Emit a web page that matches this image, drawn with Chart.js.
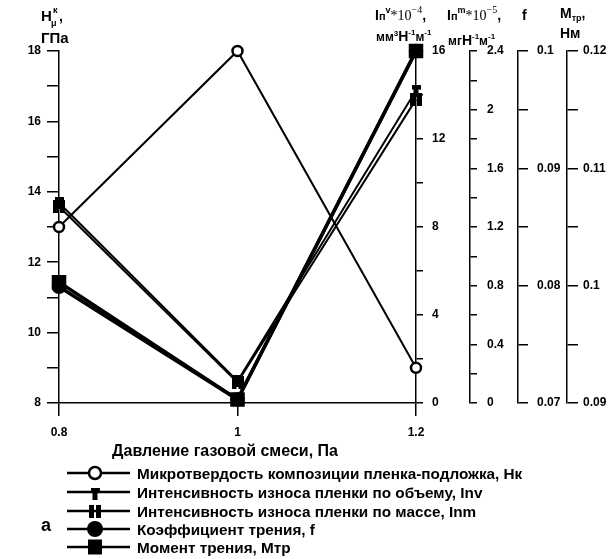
<!DOCTYPE html>
<html>
<head>
<meta charset="utf-8">
<script src="https://cdn.jsdelivr.net/npm/chart.js@4.4.0/dist/chart.umd.min.js"></script>
<style>
html, body { margin: 0; padding: 0; background: #fff; }
</style>
</head>
<body>
<canvas id="grafico" width="612" height="559"></canvas>
<script>
"use strict";
// давление газовой смеси, Па
const pressure = [0.8, 1.0, 1.2];
// микротвердость Нк, ГПа
const hardness = [13.0, 18.0, 9.0];
// интенсивность износа по объему, *10^-4
const wearVolume = [9.1, 1.0, 14.2];
// интенсивность износа по массе, *10^-5
const wearMass = [1.34, 0.14, 2.07];
// коэффициент трения f
const friction = [0.0799, 0.0703, 0.1];
// момент трения, Нм
const torque = [0.1003, 0.0903, 0.12];

const legendLabels = [
    "Микротвердость композиции пленка-подложка, Нк",
    "Интенсивность износа пленки по объему, Inv",
    "Интенсивность износа пленки по массе, Inm",
    "Коэффициент трения, f",
    "Момент трения, Мтр"
];

const FONT = '"Liberation Sans", Arial, sans-serif';
const SERIF = '"Liberation Serif", "Times New Roman", serif';

function makeMarker(w, h, draw) {
    let c = document.createElement("canvas");
    c.width = w;
    c.height = h;
    let g = c.getContext("2d");
    g.fillStyle = "#000";
    draw(g);
    return c;
}
// значок "гвоздь" и значок "II"
const nailMark = makeMarker(9, 12, function (g) {
    g.fillRect(0, 0, 9, 5);
    g.fillRect(2, 5, 5, 7);
});
const gateMark = makeMarker(12, 13, function (g) {
    g.fillRect(0, 0, 5, 13);
    g.fillRect(7, 0, 5, 13);
});

function pts(ys) {
    return pressure.map((x, i) => ({ x: x, y: ys[i] }));
}

function everyOther(fmt) {
    return function (v, i) {
        return i % 2 === 0 ? fmt(v) : "";
    };
}
const num = v => String(parseFloat(v.toFixed(3)));

function axis(pos, min, max, step, tick, pad, width, weight) {
    return {
        type: "linear",
        position: pos,
        min: min,
        max: max,
        weight: weight,
        border: { display: true, color: "#000", width: 1.5 },
        grid: { drawOnChartArea: false, color: "#000", lineWidth: 1.5, tickLength: tick },
        ticks: {
            stepSize: step,
            color: "#000",
            padding: pad,
            font: { family: FONT, size: 12, weight: "bold" },
            callback: everyOther(num)
        },
        afterFit: function (s) { s.width = width; }
    };
}

function runs(ctx, x, y, parts) {
    for (const p of parts) {
        ctx.font = p[1];
        ctx.fillText(p[0], x, y + (p[2] || 0));
        x += ctx.measureText(p[0]).width;
    }
}

const titlesPlugin = {
    id: "titles",
    afterDraw: function (chart) {
        let ctx = chart.ctx;
        ctx.save();
        ctx.fillStyle = "#000";
        ctx.textAlign = "left";
        ctx.textBaseline = "alphabetic";
        let B14 = "bold 14px " + FONT;
        let B12 = "bold 12px " + FONT;
        let B9 = "bold 9px " + FONT;
        let B8 = "bold 8px " + FONT;
        let S14 = "14px " + SERIF;
        let S10 = "10px " + SERIF;

        // левая ось
        runs(ctx, 41, 21, [["H", "bold 15px " + FONT]]);
        runs(ctx, 51, 26, [["μ", B9]]);
        runs(ctx, 53, 13, [["к", B9]]);
        runs(ctx, 59, 21, [[",", B14]]);
        runs(ctx, 41, 43, [["ГПа", "bold 15px " + FONT]]);

        // правые оси
        runs(ctx, 375, 20, [["I", B14], ["п", "bold 11px " + FONT], ["v", B9, -7], ["*10", S14], ["−4", S10, -7], [",", B14]]);
        runs(ctx, 376, 41, [["мм", B12], ["3", B8, -5], ["Н", B14], ["-1", B8, -6], ["м", B12], ["-1", B8, -6]]);
        runs(ctx, 447, 20, [["I", B14], ["п", "bold 11px " + FONT], ["m", B9, -7], ["*10", S14], ["−5", S10, -7], [",", B14]]);
        runs(ctx, 448, 45, [["мг", B12], ["Н", B14], ["-1", B8, -6], ["м", B12], ["-1", B8, -6]]);
        runs(ctx, 522, 20, [["f", B14]]);
        runs(ctx, 560, 18, [["М", B14], ["тр", B9, 3], [",", B14]]);
        runs(ctx, 560, 38, [["Нм", B14]]);

        // подпись оси X
        ctx.textAlign = "center";
        ctx.font = "bold 16px " + FONT;
        ctx.fillText("Давление газовой смеси, Па", 225, 456);

        // легенда
        ctx.textAlign = "left";
        const rows = [473, 492, 511, 529, 547];
        for (let i = 0; i < rows.length; i++) {
            let yc = rows[i];
            ctx.strokeStyle = "#000";
            ctx.lineWidth = 2.5;
            ctx.beginPath();
            ctx.moveTo(67, yc);
            ctx.lineTo(130, yc);
            ctx.stroke();
            drawLegendMark(ctx, i, 95, yc);
            ctx.font = "bold 15.3px " + FONT;
            ctx.fillText(legendLabels[i], 137, yc + 5.5);
        }
        ctx.font = "bold 18px " + FONT;
        ctx.fillText("а", 41, 531);
        ctx.restore();
    }
};

function drawLegendMark(ctx, i, x, y) {
    ctx.fillStyle = "#000";
    if (i === 0) {
        ctx.beginPath();
        ctx.arc(x, y, 6, 0, Math.PI * 2);
        ctx.fillStyle = "#fff";
        ctx.fill();
        ctx.lineWidth = 2.5;
        ctx.stroke();
        ctx.fillStyle = "#000";
    } else if (i === 1) {
        ctx.drawImage(nailMark, x - 4.5, y - 4);
    } else if (i === 2) {
        ctx.drawImage(gateMark, x - 6, y - 6.5);
    } else if (i === 3) {
        ctx.beginPath();
        ctx.arc(x, y, 8, 0, Math.PI * 2);
        ctx.fill();
    } else {
        ctx.fillRect(x - 7, y - 7.5, 14, 15);
    }
}

function ds(label, data, axisId, width, style, radius, fill) {
    return {
        label: label,
        data: pts(data),
        yAxisID: axisId,
        borderColor: "#000",
        borderWidth: width,
        pointStyle: style,
        pointRadius: radius,
        pointHoverRadius: radius,
        pointBackgroundColor: fill,
        pointBorderColor: "#000",
        pointBorderWidth: 2.5,
        tension: 0,
        clip: false
    };
}

let chart = new Chart(document.getElementById("grafico"), {
    type: "line",
    data: {
        datasets: [
            ds("Hk", hardness, "y", 2, "circle", 5, "#fff"),
            ds("Inv", wearVolume, "y1", 2, nailMark, 6, "#000"),
            ds("Inm", wearMass, "y2", 2, gateMark, 6, "#000"),
            ds("f", friction, "y3", 3.5, "circle", 6, "#000"),
            ds("Mtr", torque, "y4", 3.5, "rect", 8.5, "#000")
        ]
    },
    options: {
        responsive: false,
        animation: false,
        events: [],
        layout: { padding: { top: 51, left: 0, right: 0, bottom: 0 } },
        plugins: { legend: { display: false }, tooltip: { enabled: false } },
        scales: {
            x: {
                type: "linear",
                min: 0.8,
                max: 1.2,
                border: { display: true, color: "#000", width: 1.5 },
                grid: { drawOnChartArea: false, color: "#000", lineWidth: 1.5, tickLength: 13 },
                ticks: {
                    stepSize: 0.2,
                    color: "#000",
                    padding: 9,
                    font: { family: FONT, size: 12, weight: "bold" },
                    callback: v => String(parseFloat(v.toFixed(1)))
                },
                afterFit: function (s) { s.height = 156; }
            },
            y: {
                type: "linear",
                position: "left",
                min: 8,
                max: 18,
                border: { display: true, color: "#000", width: 1.5 },
                grid: { drawOnChartArea: false, color: "#000", lineWidth: 1.5, tickLength: 12 },
                ticks: {
                    stepSize: 1,
                    color: "#000",
                    padding: 6,
                    font: { family: FONT, size: 12, weight: "bold" },
                    callback: everyOther(num)
                },
                afterFit: function (s) { s.width = 59; }
            },
            y1: axis("right", 0, 16, 2, 7, 9, 54, 1),
            y2: axis("right", 0, 2.4, 0.2, 7, 10, 48, 2),
            y3: axis("right", 0.07, 0.1, 0.005, 10, 9, 49, 3),
            y4: axis("right", 0.09, 0.12, 0.005, 11, 5, 45, 4)
        }
    },
    plugins: [titlesPlugin]
});
</script>
</body>
</html>
